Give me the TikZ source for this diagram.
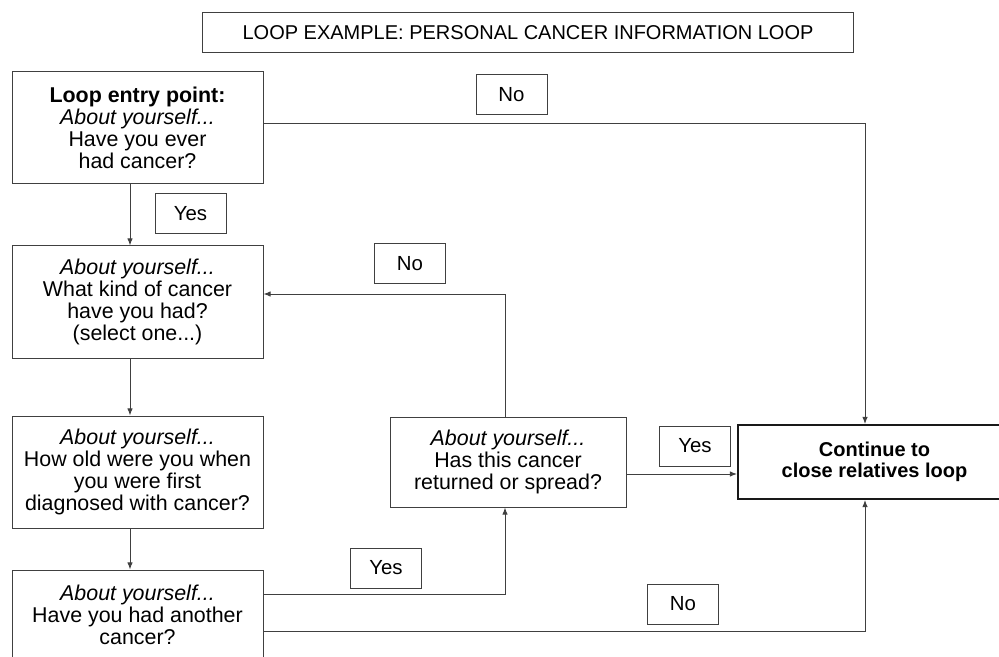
\documentclass[tikz,border=0pt]{standalone}
\usepackage{fontspec}
\setmainfont{Liberation Sans}
\usetikzlibrary{arrows.meta, positioning, calc}
\tikzset{
    titlebox/.style={rectangle, draw=black!75, line width=0.5pt, minimum width=325.5pt, minimum height=20pt, inner sep=1pt, font=\fontsize{10}{11}\selectfont},
    question/.style={rectangle, draw=black!75, line width=0.5pt, minimum width=125.5pt, minimum height=56pt, align=center, inner sep=1pt, font=\fontsize{10.7}{11}\selectfont},
    answer/.style={rectangle, draw=black!75, line width=0.5pt, minimum width=35.5pt, minimum height=20pt, inner sep=1pt, font=\fontsize{10.2}{11}\selectfont},
    arrowline/.style={-{Latex[length=3.6pt, width=2.8pt]}, draw=black!75, line width=0.5pt}
}

\begin{document}
\begin{tikzpicture}[x=0.5pt, y=-0.5pt]
  \useasboundingbox (0,0) rectangle (999,657);
  \clip (0,0) rectangle (999,657);
  \node[titlebox] (title) at (528,33) {LOOP EXAMPLE: PERSONAL CANCER INFORMATION LOOP};
  % left column
  \node[question] (entry) at (137.5,128) {\textbf{Loop entry point:}\\\textit{About yourself...}\\Have you ever\\had cancer?};
  \node[question, below=30.5pt of entry] (kind) {\textit{About yourself...}\\What kind of cancer\\have you had?\\(select one...)};
  \node[question, below=28.5pt of kind] (age) {\textit{About yourself...}\\How old were you when\\you were first\\diagnosed with cancer?};
  \node[question, below=20.5pt of age, minimum height=45pt] (another) {\textit{About yourself...}\\Have you had another\\cancer?};
  \node[question, minimum width=118pt, minimum height=45pt] (returned) at (508,462) {\textit{About yourself...}\\Has this cancer\\returned or spread?};
  \node[question, minimum width=136.5pt, minimum height=37pt, draw=black!90, line width=1pt, font=\fontsize{10}{10.5}\selectfont\bfseries] (cont) at (874.5,462) {Continue to\\close relatives loop};
  % answers
  \node[answer] (no1) at (511.5,95) {No};
  \node[answer] (yes1) at (190.5,214) {Yes};
  \node[answer] (no2) at (410,264) {No};
  \node[answer] (yes2) at (386,568) {Yes};
  \node[answer] (yes3) at (695,446) {Yes};
  \node[answer] (no3) at (683,604) {No};
  % connectors
  \draw[arrowline] ($(entry.south)+(-7.5,0)$) -- ($(kind.north)+(-7.5,0)$);
  \draw[arrowline] ($(kind.south)+(-7.5,0)$) -- ($(age.north)+(-7.5,0)$);
  \draw[arrowline] ($(age.south)+(-7.5,0)$) -- ($(another.north)+(-7.5,0)$);
  \draw[arrowline] ($(entry.east)+(0,-4)$) -| ($(cont.north)+(-9.5,0)$);
  \draw[arrowline] ($(returned.north)+(-3,0)$) |- ($(kind.east)+(0,-8)$);
  \draw[arrowline] ($(another.east)+(0,-21)$) -| ($(returned.south)+(-3,0)$);
  \draw[arrowline] ($(another.east)+(0,16)$) -| ($(cont.south)+(-9.5,0)$);
  \draw[arrowline] ($(returned.east)+(0,12)$) -- ($(cont.west)+(0,12)$);
\end{tikzpicture}
\end{document}
